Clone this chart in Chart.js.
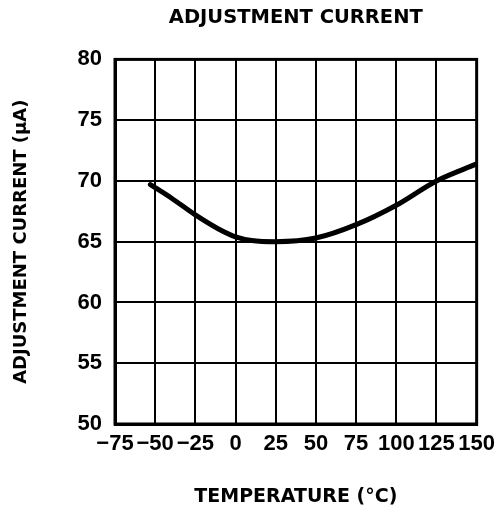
<!DOCTYPE html>
<html lang="en">
<head>
<meta charset="UTF-8">
<title>Adjustment Current</title>
<script src="https://cdn.jsdelivr.net/npm/chart.js@4"></script>
<style>
  html, body { margin: 0; padding: 0; background: #fff; }
  #wrap { width: 502px; height: 515px; }
</style>
</head>
<body>
<div id="wrap"><canvas id="chart" width="502" height="515"></canvas></div>
<script>
// values
const temps = [-53, -50, -40, -25, -10, 0, 10, 25, 50, 75, 100, 125, 150];
const current = [69.7, 69.45, 68.6, 67.2, 66.0, 65.4, 65.1, 65.0, 65.3, 66.4, 68.0, 70.0, 71.4];
const xTicks = [-75, -50, -25, 0, 25, 50, 75, 100, 125, 150];
const yTicks = [50, 55, 60, 65, 70, 75, 80];

const points = temps.map((t, i) => ({ x: t, y: current[i] }));
const tickFont = '"Liberation Sans", Arial, sans-serif';
const titleFont = '"DejaVu Sans", Verdana, sans-serif';

new Chart(document.getElementById('chart'), {
  type: 'line',
  data: {
    datasets: [{
      data: points,
      borderColor: '#000',
      borderWidth: 5,
      borderCapStyle: 'round',
      pointRadius: 0,
      cubicInterpolationMode: 'monotone',
      fill: false
    }]
  },
  options: {
    responsive: false,
    animation: false,
    layout: { padding: { left: 0, right: 4, top: 0, bottom: 0 } },
    plugins: {
      legend: { display: false },
      tooltip: { enabled: false },
      title: {
        display: true,
        fullSize: false,
        text: 'ADJUSTMENT CURRENT',
        color: '#000',
        font: { family: titleFont, size: 19.5, weight: 'bold' },
        padding: { top: 6, bottom: 30 }
      }
    },
    scales: {
      x: {
        type: 'linear',
        min: -75,
        max: 150,
        afterBuildTicks: s => { s.ticks = xTicks.map(v => ({ value: v })); },
        afterFit: s => { s.height = 91; },
        ticks: {
          color: '#000',
          autoSkip: false,
          maxRotation: 0,
          padding: 7,
          font: { family: tickFont, size: 22, weight: 'bold' },
          callback: v => String(v).replace('-', '\u2212')
        },
        grid: { color: '#000', lineWidth: 2, drawTicks: false },
        border: { color: '#000', width: 3 },
        title: {
          display: true,
          text: 'TEMPERATURE (\u00B0C)',
          color: '#000',
          font: { family: titleFont, size: 19, weight: 'bold' },
          padding: { top: 20, bottom: 7 }
        }
      },
      y: {
        min: 50,
        max: 80,
        afterBuildTicks: s => { s.ticks = yTicks.map(v => ({ value: v })); },
        afterFit: s => { s.width = 115; },
        ticks: {
          color: '#000',
          padding: 13,
          font: { family: tickFont, size: 22, weight: 'bold' }
        },
        grid: { color: '#000', lineWidth: 2, drawTicks: false },
        border: { color: '#000', width: 3 },
        title: {
          display: true,
          text: 'ADJUSTMENT CURRENT (\u03BCA)',
          color: '#000',
          font: { family: titleFont, size: 18, weight: 'bold' },
          padding: { top: 11, bottom: 8 }
        }
      }
    }
  },
  plugins: [{
    id: 'frame',
    afterDraw(chart) {
      const a = chart.chartArea, c = chart.ctx;
      c.save();
      c.strokeStyle = '#000';
      c.lineWidth = 3;
      c.strokeRect(a.left, a.top, a.right - a.left, a.bottom - a.top);
      c.restore();
    }
  }]
});
</script>
</body>
</html>
